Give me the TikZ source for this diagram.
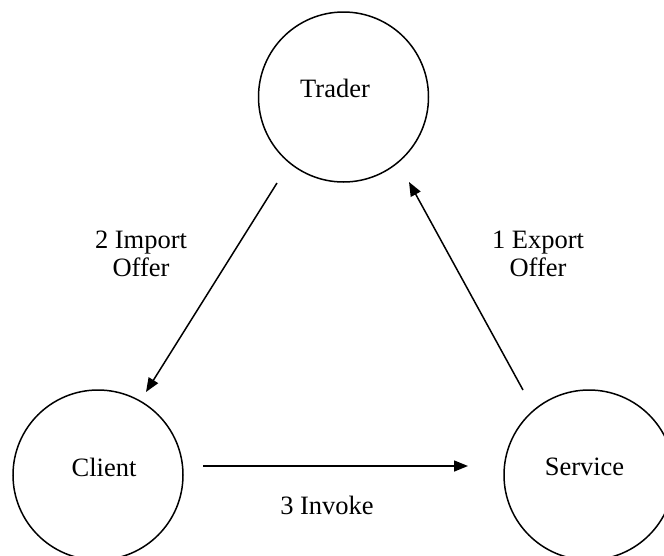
\documentclass[tikz,border=0pt]{standalone}
\usepackage{fontspec}
\setmainfont{Liberation Serif}
\usetikzlibrary{arrows.meta}
\begin{document}
\begin{tikzpicture}[x=1pt,y=-1pt,
  every node/.style={font=\fontsize{26.5}{28}\selectfont},
  party/.style={draw, circle, line width=1.5pt, minimum size=170pt, inner sep=0pt},
  flow/.style={line width=1.5pt, -{Triangle[length=14pt,width=11pt]}},
  lbl/.style={align=center, inner sep=0pt}]
\useasboundingbox (0,0) rectangle (664,555);
\clip (0,0) rectangle (664,555);
\node[party, label={[xshift=-8.5pt,yshift=9pt,inner sep=0pt]center:Trader}] (trader) at (343.5,97) {};
\node[party, label={[xshift=6pt,yshift=8pt,inner sep=0pt]center:Client}] (client) at (98,475) {};
\node[party, label={[xshift=-4.5pt,yshift=8pt,inner sep=0pt]center:Service}] (service) at (589,475) {};
\coordinate (a2s) at (277,183);
\coordinate (a2e) at (146,392);
\coordinate (a1s) at (523,390);
\coordinate (a1e) at (409,182);
\coordinate (a3s) at (203,466);
\coordinate (a3e) at (468,466);
\draw[flow] (a2s) -- (a2e);
\draw[flow] (a1s) -- (a1e);
\draw[flow] (a3s) -- (a3e);
\node[lbl] (l2) at (141,254) {2 Import\\Offer};
\node[lbl] (l1) at (538,254) {1 Export\\Offer};
\node[lbl] (l3) at (327,505) {3 Invoke};
\end{tikzpicture}
\end{document}
